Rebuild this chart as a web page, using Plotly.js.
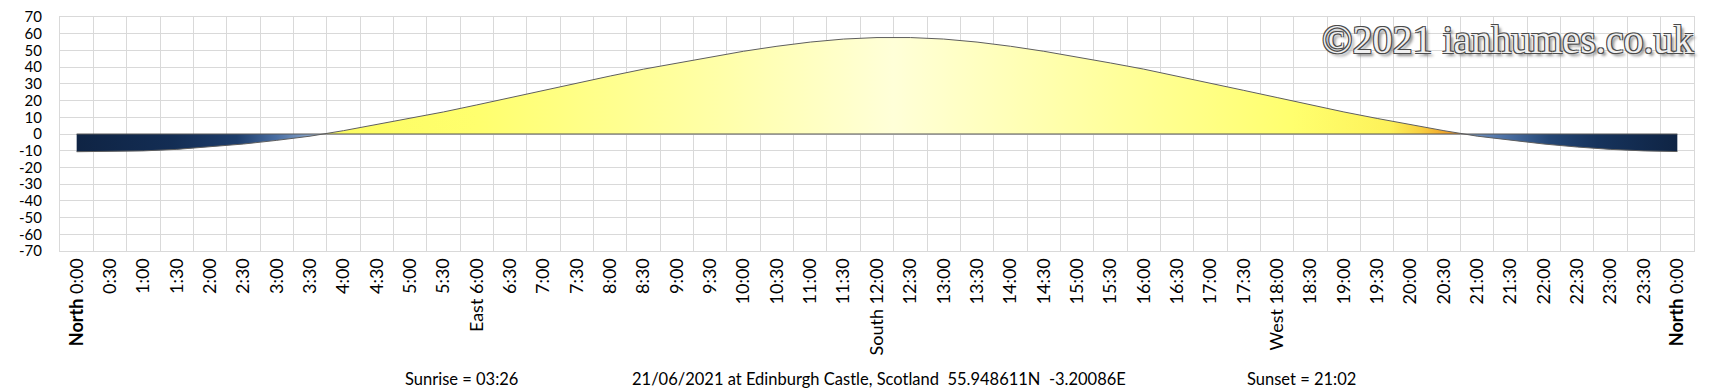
<!DOCTYPE html>
<html>
<head>
<meta charset="utf-8">
<script src="https://cdn.plot.ly/plotly-3.0.1.min.js"></script>
<style>html,body{margin:0;padding:0;background:#fff;}#chart{width:1710px;height:389px;}</style>
</head>
<body>
<div id="chart"></div>
<script>
const categories = ["0:00","0:30","1:00","1:30","2:00","2:30","3:00","3:30","4:00","4:30","5:00","5:30",
  "6:00","6:30","7:00","7:30","8:00","8:30","9:00","9:30","10:00","10:30","11:00","11:30",
  "12:00","12:30","13:00","13:30","14:00","14:30","15:00","15:30","16:00","16:30","17:00","17:30",
  "18:00","18:30","19:00","19:30","20:00","20:30","21:00","21:30","22:00","22:30","23:00","23:30","24:00"];

const tickLabels = ["<b>North</b> 0:00","0:30","1:00","1:30","2:00","2:30","3:00","3:30","4:00","4:30","5:00","5:30",
  "East 6:00","6:30","7:00","7:30","8:00","8:30","9:00","9:30","10:00","10:30","11:00","11:30",
  "South 12:00","12:30","13:00","13:30","14:00","14:30","15:00","15:30","16:00","16:30","17:00","17:30",
  "West 18:00","18:30","19:00","19:30","20:00","20:30","21:00","21:30","22:00","22:30","23:00","23:30","<b>North</b> 0:00"];

const elevation = [-10.6,-10.5,-10.1,-9.2,-7.8,-6.0,-3.8,-1.3,2.0,5.6,9.3,13.2,
  17.4,21.8,26.1,30.4,34.7,38.8,42.5,46.1,49.5,52.5,55.0,56.8,
  57.7,57.7,56.8,55.0,52.5,49.5,46.1,42.5,38.8,34.7,30.4,26.1,
  21.8,17.4,13.2,9.3,5.6,2.0,-1.3,-3.8,-6.0,-7.8,-9.2,-10.1,-10.5];

const yTickVals = [70,60,50,40,30,20,10,0,-10,-20,-30,-40,-50,-60,-70];
const yTickLabels = ["70","60","50","40","30","20","10","0","-10","-20","-30","-40","-50","-60","-70"];

const sunriseText = "Sunrise = 03:26";
const locationText = "21/06/2021 at Edinburgh Castle, Scotland\u00a0\u00a055.948611N\u00a0\u00a0-3.20086E";
const sunsetText = "Sunset = 21:02";
const watermarkText = "\u00a92021 ianhumes.co.uk";

const skyScale = [
  [0.000, "#0f2444"],
  [0.060, "#132d54"],
  [0.100, "#1d3d6b"],
  [0.125, "#4a6fa3"],
  [0.145, "#86a3c9"],
  [0.152, "#a9bdd8"],
  [0.156, "#fcfc60"],
  [0.250, "#ffff6e"],
  [0.400, "#ffffa8"],
  [0.510, "#ffffd8"],
  [0.620, "#ffffa8"],
  [0.760, "#ffff6e"],
  [0.820, "#fdf25a"],
  [0.840, "#f8cf40"],
  [0.857, "#f0a028"],
  [0.866, "#e38418"],
  [0.869, "#7393bf"],
  [0.890, "#4f74a8"],
  [0.920, "#244674"],
  [0.950, "#16335c"],
  [1.000, "#0f2444"]
];

const font = "Lato, 'Open Sans', sans-serif";

const trace = {
  type: "scatter",
  mode: "lines",
  x: categories,
  y: elevation,
  fill: "tozeroy",
  fillgradient: { type: "horizontal", colorscale: skyScale },
  line: { color: "#5e5e5e", width: 1 },
  hoverinfo: "skip",
  showlegend: false
};

const layout = {
  width: 1710,
  height: 389,
  margin: { l: 60, r: 16, t: 17, b: 138, pad: 0 },
  paper_bgcolor: "#ffffff",
  plot_bgcolor: "#ffffff",
  showlegend: false,
  font: { family: font, size: 16, color: "#000000" },
  xaxis: {
    type: "category",
    range: [-0.5, categories.length - 0.5],
    tickmode: "array",
    tickvals: categories,
    ticktext: tickLabels,
    tickangle: -90,
    tickson: "boundaries",
    ticks: "",
    showgrid: true,
    gridcolor: "#d9d9d9",
    gridwidth: 1,
    showline: true,
    mirror: true,
    linecolor: "#d9d9d9",
    linewidth: 1,
    zeroline: false,
    ticklabelstandoff: -1,
    tickfont: { family: font, size: 18, color: "#000000" },
    fixedrange: true
  },
  yaxis: {
    range: [-70, 70],
    tickmode: "array",
    tickvals: yTickVals,
    ticktext: yTickLabels,
    showgrid: true,
    gridcolor: "#d9d9d9",
    gridwidth: 1,
    showline: true,
    mirror: true,
    linecolor: "#d9d9d9",
    linewidth: 1,
    zeroline: false,
    ticks: "",
    ticklabelstandoff: 14,
    tickfont: { family: font, size: 15, color: "#000000" },
    fixedrange: true
  },
  shapes: [{
    type: "line",
    xref: "x", yref: "y",
    x0: 0, x1: categories.length - 1,
    y0: 0, y1: 0,
    line: { color: "#595959", width: 1.2 },
    layer: "above"
  }],
  annotations: [
    { xref: "paper", yref: "paper", x: 0.2102, y: -0.545, xanchor: "left", yanchor: "middle",
      text: sunriseText, showarrow: false, font: { family: font, size: 16.5, color: "#000" } },
    { xref: "paper", yref: "paper", x: 0.3488, y: -0.545, xanchor: "left", yanchor: "middle",
      text: locationText, showarrow: false, font: { family: font, size: 16.5, color: "#000" } },
    { xref: "paper", yref: "paper", x: 0.7255, y: -0.545, xanchor: "left", yanchor: "middle",
      text: sunsetText, showarrow: false, font: { family: font, size: 16.5, color: "#000" } },
    { xref: "paper", yref: "paper", x: 1.0006, y: 1.0085, xanchor: "right", yanchor: "top",
      text: watermarkText, showarrow: false,
      font: { family: "'Liberation Serif', 'DejaVu Serif', serif", size: 40, color: "#f0f0f0",
              shadow: "-1px -1px 0 #4a4a4a, 1px -1px 0 #4a4a4a, -1px 1px 0 #4a4a4a, 1px 1px 0 #4a4a4a, 3px 3px 3px #8a8a8a" } }
  ]
};

Plotly.newPlot("chart", [trace], layout, { staticPlot: true, displayModeBar: false });
</script>
</body>
</html>
